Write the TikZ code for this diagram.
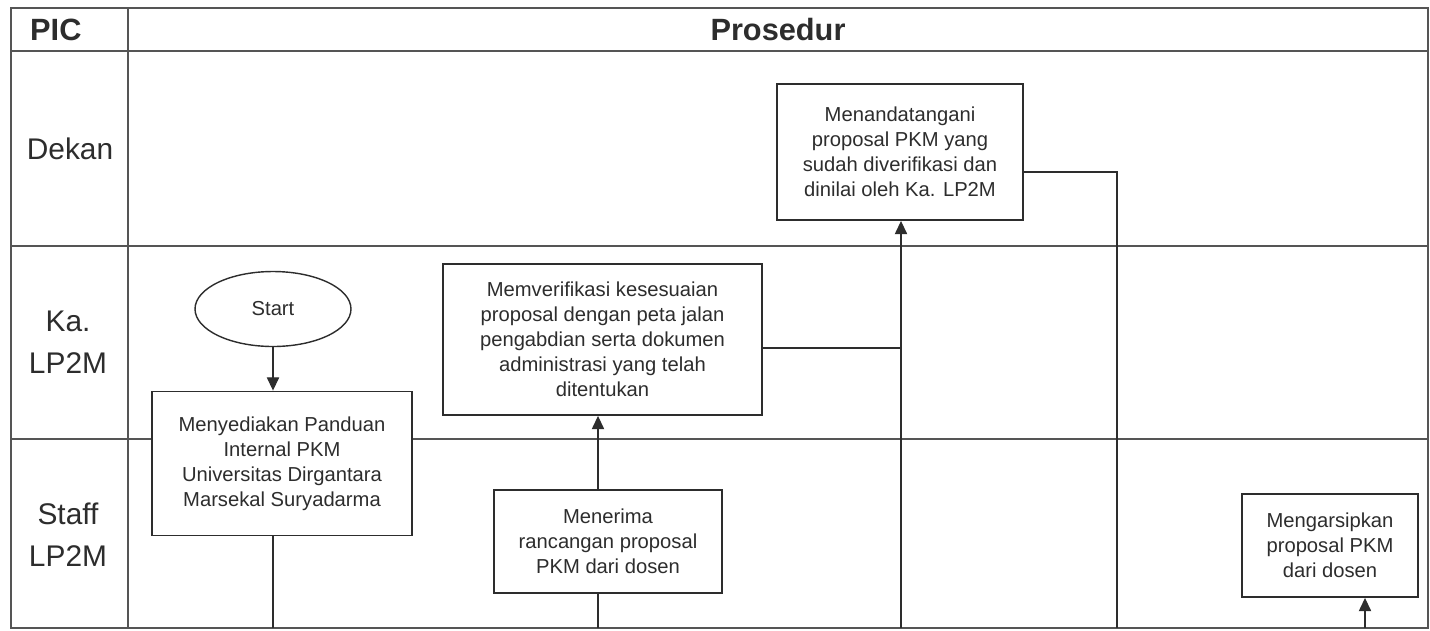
\documentclass[tikz,border=0pt]{standalone}
\definecolor{inkgray}{RGB}{45,45,45}
\definecolor{gridgray}{RGB}{85,85,85}
\usepackage{fontspec}
\setmainfont{Liberation Sans}
\usepackage{tikz}
\usetikzlibrary{shapes,arrows.meta,positioning,calc}

\tikzset{
    lane/.style={draw=gridgray, line width=0.6pt},
    headtext/.style={font=\fontsize{17.5}{21}\selectfont\bfseries, text=inkgray},
    lanetext/.style={font=\fontsize{17}{24}\selectfont, text=inkgray, align=center},
    procbox/.style={draw=inkgray, line width=1.1pt, fill=white, inner sep=0pt, align=center,
        font=\fontsize{11.5}{14.2}\selectfont, text=inkgray},
    startnode/.style={ellipse, draw=inkgray, line width=0.8pt, fill=white, inner sep=0pt,
        minimum width=3.12cm, minimum height=1.5cm, font=\fontsize{11.5}{14.2}\selectfont, text=inkgray},
    flow/.style={draw=inkgray, line width=0.6pt},
    flowarrow/.style={flow, -{Triangle[length=7.5pt,width=7pt]}}
}

\begin{document}
\begin{tikzpicture}[x=0.02cm, y=-0.02cm]
            \useasboundingbox (0,0) rectangle (1430,630);

            % swimlane table
            \draw[lane] (11,8) rectangle (1428,628);
            \draw[lane] (128,8) -- (128,628);
            \draw[lane] (11,51) -- (1428,51);
            \draw[lane] (11,246) -- (1428,246);
            \draw[lane] (11,439) -- (1428,439);

            \node[headtext, anchor=west] (pic) at (24,30) {PIC};
            \node[headtext] (prosedur) at (778,30) {Prosedur};
            \node[lanetext] (dekan) at (70,149) {Dekan};
            \node[lanetext] (kalp) at (68,342) {Ka.\\LP2M};
            \node[lanetext] (stafflp) at (68,535) {Staff\\LP2M};

            % steps
            \node[startnode] (start) at (273,309) {Start};
            \node[procbox, minimum width=5.2cm, minimum height=2.88cm] (panduan) at (282,463.5)
                {Menyediakan Panduan\\Internal PKM\\Universitas Dirgantara\\Marsekal Suryadarma};
            \node[procbox, minimum width=6.38cm, minimum height=3.02cm] (verifikasi) at (602.5,339.5)
                {Memverifikasi kesesuaian\\proposal dengan peta jalan\\pengabdian serta dokumen\\administrasi yang telah\\ditentukan};
            \node[procbox, minimum width=4.56cm, minimum height=2.06cm] (terima) at (608,541.5)
                {Menerima\\rancangan proposal\\PKM dari dosen};
            \node[procbox, minimum width=4.92cm, minimum height=2.72cm] (ttd) at (900,152)
                {Menandatangani\\proposal PKM yang\\sudah diverifikasi dan\\dinilai oleh Ka. LP2M};
            \node[procbox, minimum width=3.52cm, minimum height=2.06cm] (arsip) at (1330,545.5)
                {Mengarsipkan\\proposal PKM\\dari dosen};

            % loose ends at the page bottom
            \coordinate (panduanout) at (273,628);
            \coordinate (terimaout) at (598,628);
            \coordinate (ttdin) at (901,628);
            \coordinate (ttdturn) at (1117,172);
            \coordinate (ttdout) at (1117,628);
            \coordinate (arsipin) at (1365,628);
            \coordinate (verifjoin) at (901,348);

            % connectors
            \draw[flowarrow] (start.south) -- (panduan.north -| start.south);
            \draw[flow] (panduan.south -| panduanout) -- (panduanout);
            \draw[flowarrow] (terima.north -| terimaout) -- (verifikasi.south -| terimaout);
            \draw[flow] (terima.south -| terimaout) -- (terimaout);
            \draw[flow] (verifikasi.east |- verifjoin) -- (verifjoin);
            \draw[flowarrow] (ttdin) -- (ttd.south -| ttdin);
            \draw[flow] (ttd.east |- ttdturn) -- (ttdturn) -- (ttdout);
            \draw[flowarrow] (arsipin) -- (arsip.south -| arsipin);
        \end{tikzpicture}
\end{document}
